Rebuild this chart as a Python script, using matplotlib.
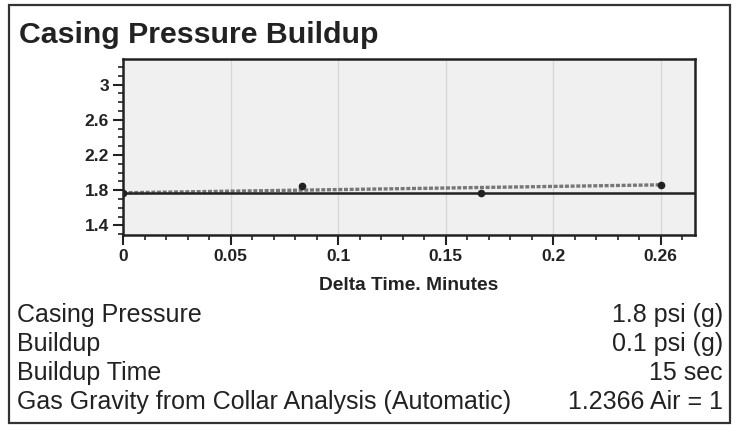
import matplotlib
matplotlib.use("Agg")
import matplotlib.pyplot as plt
from matplotlib.patches import Rectangle
from matplotlib.ticker import MultipleLocator, FixedLocator

# Data
times_min = [0.0, 0.0833, 0.1667, 0.25]
pressures = [1.77, 1.85, 1.77, 1.86]
casing_pressure = 1.77
x_ticks = [0, 0.05, 0.1, 0.15, 0.2, 0.25]
x_tick_labels = ["0", "0.05", "0.1", "0.15", "0.2", "0.26"]
y_ticks = [1.4, 1.8, 2.2, 2.6, 3.0]
y_tick_labels = ["1.4", "1.8", "2.2", "2.6", "3"]
title = "Casing Pressure Buildup"
x_label = "Delta Time. Minutes"
info_labels = ["Casing Pressure", "Buildup", "Buildup Time",
               "Gas Gravity from Collar Analysis (Automatic)"]
info_values = ["1.8 psi (g)", "0.1 psi (g)", "15 sec", "1.2366 Air = 1"]

W, H = 738, 425
fig = plt.figure(figsize=(W / 100, H / 100), dpi=100)
fig.patch.set_facecolor("white")

def fx(px):
    return px / W

def fy(py):
    return 1 - py / H

# outer frame
fig.patches.append(Rectangle((fx(9), fy(423)), fx(730) - fx(9), fy(5) - fy(423),
                             transform=fig.transFigure, fill=False,
                             edgecolor="#333333", linewidth=1.6))

fig.text(fx(19), fy(35), title, fontsize=21.8, fontweight="bold",
         family="Liberation Sans", color="#222222", va="center", ha="left")

ax = fig.add_axes([fx(123), fy(235), fx(695) - fx(123), fy(59) - fy(235)])
ax.set_facecolor("#f0f0f0")
ax.set_xlim(0, 0.266)
ax.set_ylim(1.29, 3.29)

ax.xaxis.set_major_locator(FixedLocator(x_ticks))
ax.set_xticklabels(x_tick_labels)
ax.xaxis.set_minor_locator(MultipleLocator(0.01))
ax.yaxis.set_major_locator(FixedLocator(y_ticks))
ax.set_yticklabels(y_tick_labels)
ax.yaxis.set_minor_locator(MultipleLocator(0.1))

ax.grid(axis="x", which="major", color="#d6d6d6", linewidth=0.9)
ax.set_axisbelow(True)

for s in ax.spines.values():
    s.set_linewidth(1.8)
    s.set_color("#222222")

ax.tick_params(axis="both", which="major", direction="out", length=7, width=1.5,
               color="#222222", labelsize=12.5, pad=3)
ax.tick_params(axis="both", which="minor", direction="out", length=3.5, width=1.2,
               color="#222222")
for lab in ax.get_xticklabels() + ax.get_yticklabels():
    lab.set_fontweight("bold")
    lab.set_family("Liberation Sans")
    lab.set_color("#222222")

# buildup line from first to last reading
ax.plot([times_min[0], times_min[-1]], [pressures[0], pressures[-1]],
        color="#777777", linewidth=2.4, linestyle=(0, (1.2, 0.5)), zorder=3)
# casing pressure line
ax.axhline(casing_pressure, color="#222222", linewidth=1.8, zorder=4)
# readings
ax.plot(times_min, pressures, linestyle="none", marker="o", markersize=4.5,
        color="#222222", zorder=5)

fig.text(fx(409), fy(285), x_label, fontsize=13.8, fontweight="bold",
         family="Liberation Sans", color="#222222", ha="center", va="center")

line_y = [315, 344, 373, 402]
for yy, lab, val in zip(line_y, info_labels, info_values):
    fig.text(fx(17), fy(yy), lab, fontsize=18, family="Liberation Sans",
             color="#222222", ha="left", va="center")
    fig.text(fx(723), fy(yy), val, fontsize=18, family="Liberation Sans",
             color="#222222", ha="right", va="center")

fig.savefig("out.png", dpi=100)
